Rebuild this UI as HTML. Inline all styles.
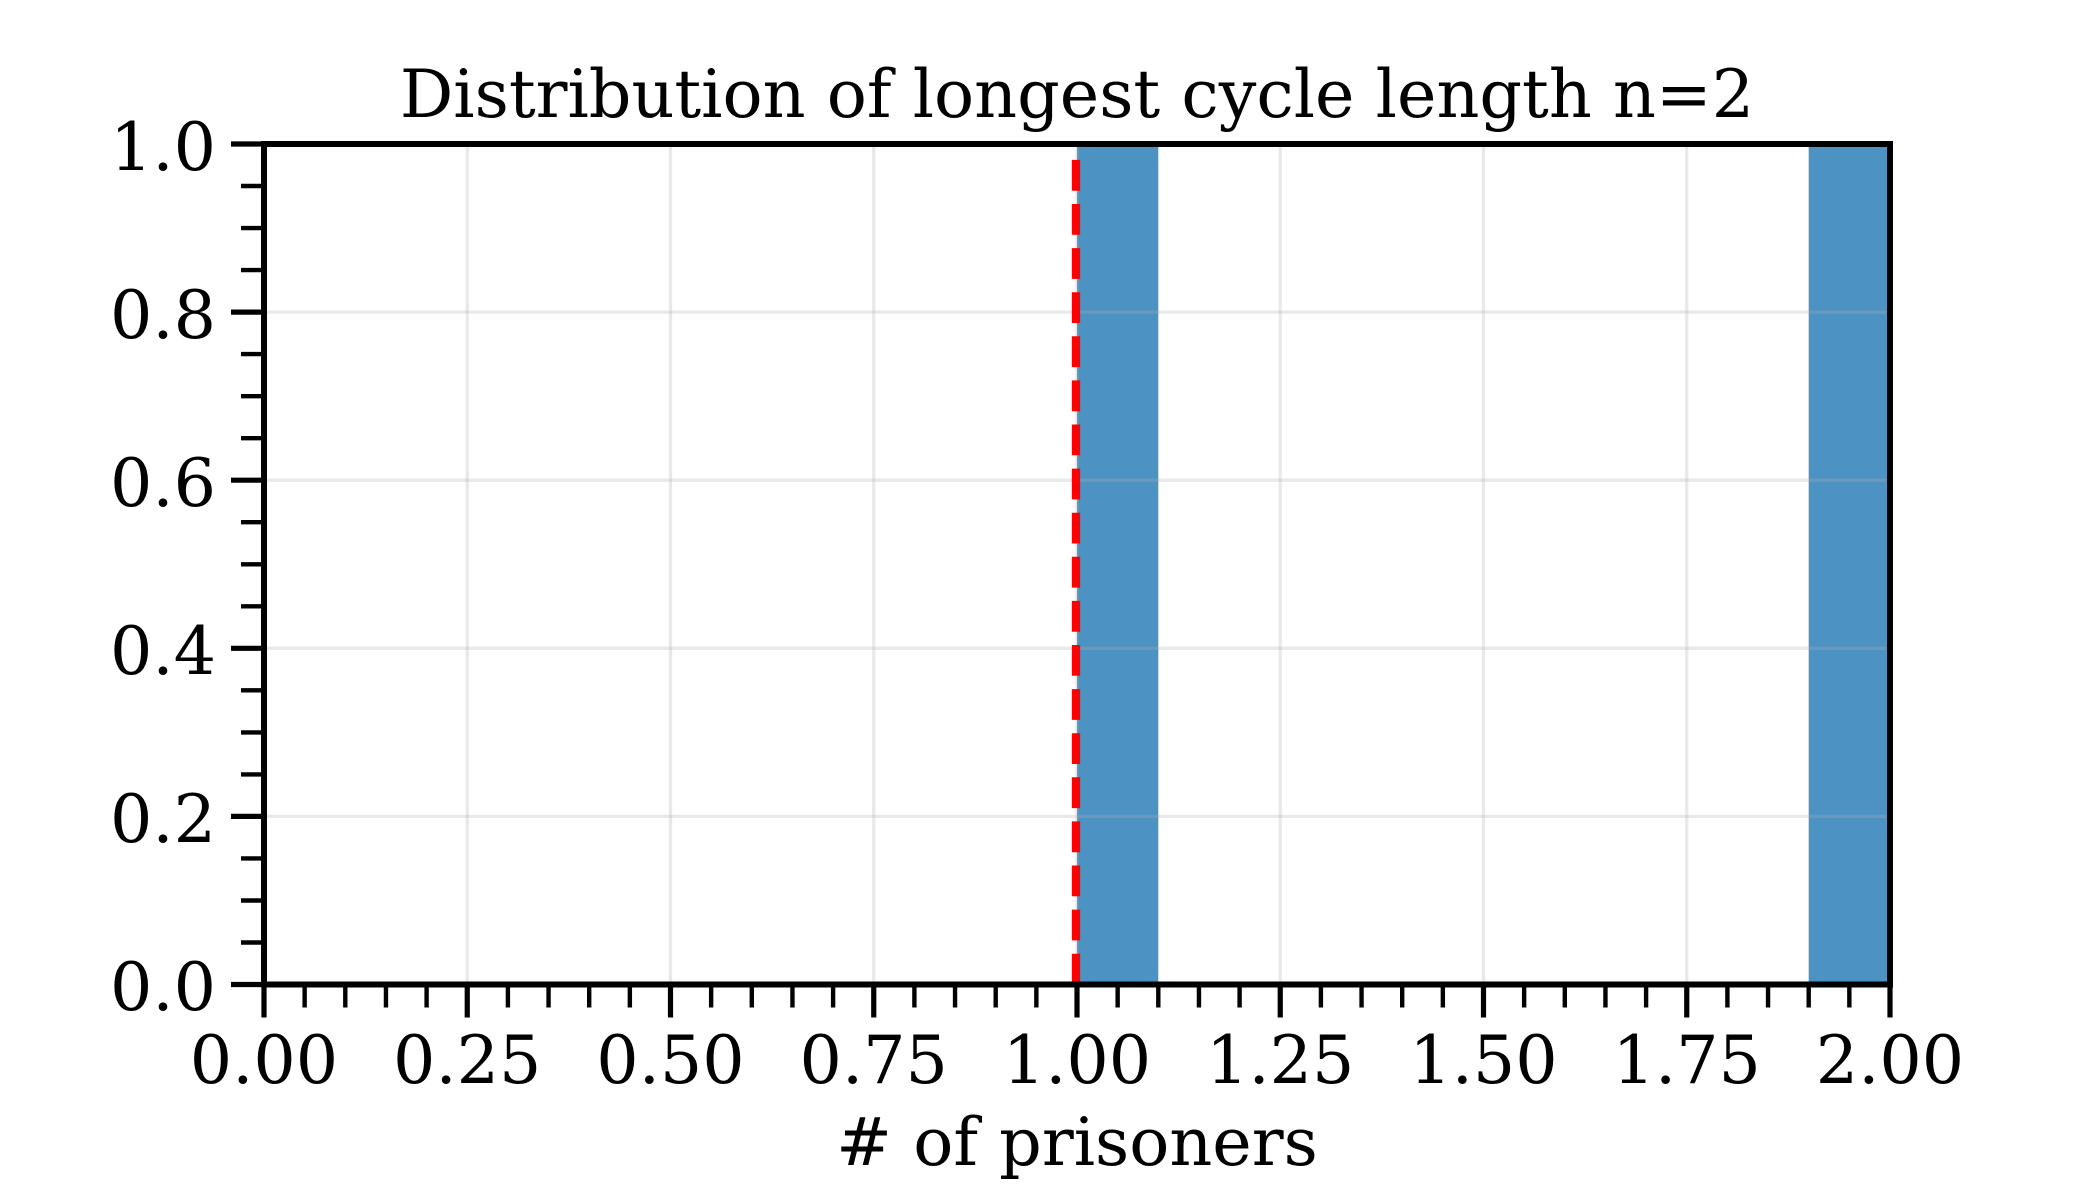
<!DOCTYPE html>
<html>
<head>
<meta charset="utf-8">
<style>
html,body{margin:0;padding:0;background:#fff;}
svg{display:block;}
text{font-family:"DejaVu Serif","Liberation Serif",serif;fill:#000;font-size:66.67px;}
</style>
</head>
<body>
<svg width="2100" height="1200" viewBox="0 0 2100 1200" xmlns="http://www.w3.org/2000/svg">
<rect x="0" y="0" width="2100" height="1200" fill="#fff"/>
<!-- bars -->
<rect x="1077" y="144" width="81.3" height="840.5" fill="#4c92c3"/>
<rect x="1808.7" y="144" width="81.3" height="840.5" fill="#4c92c3"/>
<!-- grid -->
<g stroke="#b0b0b0" stroke-opacity="0.28" stroke-width="3.3">
<line x1="467.25" y1="144" x2="467.25" y2="984.5"/>
<line x1="670.5" y1="144" x2="670.5" y2="984.5"/>
<line x1="873.75" y1="144" x2="873.75" y2="984.5"/>
<line x1="1077" y1="144" x2="1077" y2="984.5"/>
<line x1="1280.25" y1="144" x2="1280.25" y2="984.5"/>
<line x1="1483.5" y1="144" x2="1483.5" y2="984.5"/>
<line x1="1686.75" y1="144" x2="1686.75" y2="984.5"/>
<line x1="264" y1="816.4" x2="1890" y2="816.4"/>
<line x1="264" y1="648.3" x2="1890" y2="648.3"/>
<line x1="264" y1="480.2" x2="1890" y2="480.2"/>
<line x1="264" y1="312.1" x2="1890" y2="312.1"/>
</g>
<!-- red dashed line -->
<line x1="1076" y1="984.5" x2="1076" y2="144" stroke="#ff0000" stroke-width="8.33" stroke-dasharray="30.8 13.3"/>
<!-- ticks -->
<g stroke="#000" stroke-width="5.2">
<line x1="264" y1="984.5" x2="264" y2="1017.5"/>
<line x1="467.25" y1="984.5" x2="467.25" y2="1017.5"/>
<line x1="670.5" y1="984.5" x2="670.5" y2="1017.5"/>
<line x1="873.75" y1="984.5" x2="873.75" y2="1017.5"/>
<line x1="1077" y1="984.5" x2="1077" y2="1017.5"/>
<line x1="1280.25" y1="984.5" x2="1280.25" y2="1017.5"/>
<line x1="1483.5" y1="984.5" x2="1483.5" y2="1017.5"/>
<line x1="1686.75" y1="984.5" x2="1686.75" y2="1017.5"/>
<line x1="1890" y1="984.5" x2="1890" y2="1017.5"/>
<line x1="264" y1="984.5" x2="231" y2="984.5"/>
<line x1="264" y1="816.4" x2="231" y2="816.4"/>
<line x1="264" y1="648.3" x2="231" y2="648.3"/>
<line x1="264" y1="480.2" x2="231" y2="480.2"/>
<line x1="264" y1="312.1" x2="231" y2="312.1"/>
<line x1="264" y1="144" x2="231" y2="144"/>
</g>
<g stroke="#000" stroke-width="4.4">
<line x1="304.65" y1="984.5" x2="304.65" y2="1007.5"/>
<line x1="345.3" y1="984.5" x2="345.3" y2="1007.5"/>
<line x1="385.95" y1="984.5" x2="385.95" y2="1007.5"/>
<line x1="426.6" y1="984.5" x2="426.6" y2="1007.5"/>
<line x1="507.9" y1="984.5" x2="507.9" y2="1007.5"/>
<line x1="548.55" y1="984.5" x2="548.55" y2="1007.5"/>
<line x1="589.2" y1="984.5" x2="589.2" y2="1007.5"/>
<line x1="629.85" y1="984.5" x2="629.85" y2="1007.5"/>
<line x1="711.15" y1="984.5" x2="711.15" y2="1007.5"/>
<line x1="751.8" y1="984.5" x2="751.8" y2="1007.5"/>
<line x1="792.45" y1="984.5" x2="792.45" y2="1007.5"/>
<line x1="833.1" y1="984.5" x2="833.1" y2="1007.5"/>
<line x1="914.4" y1="984.5" x2="914.4" y2="1007.5"/>
<line x1="955.05" y1="984.5" x2="955.05" y2="1007.5"/>
<line x1="995.7" y1="984.5" x2="995.7" y2="1007.5"/>
<line x1="1036.35" y1="984.5" x2="1036.35" y2="1007.5"/>
<line x1="1117.65" y1="984.5" x2="1117.65" y2="1007.5"/>
<line x1="1158.3" y1="984.5" x2="1158.3" y2="1007.5"/>
<line x1="1198.95" y1="984.5" x2="1198.95" y2="1007.5"/>
<line x1="1239.6" y1="984.5" x2="1239.6" y2="1007.5"/>
<line x1="1320.9" y1="984.5" x2="1320.9" y2="1007.5"/>
<line x1="1361.55" y1="984.5" x2="1361.55" y2="1007.5"/>
<line x1="1402.2" y1="984.5" x2="1402.2" y2="1007.5"/>
<line x1="1442.85" y1="984.5" x2="1442.85" y2="1007.5"/>
<line x1="1524.15" y1="984.5" x2="1524.15" y2="1007.5"/>
<line x1="1564.8" y1="984.5" x2="1564.8" y2="1007.5"/>
<line x1="1605.45" y1="984.5" x2="1605.45" y2="1007.5"/>
<line x1="1646.1" y1="984.5" x2="1646.1" y2="1007.5"/>
<line x1="1727.4" y1="984.5" x2="1727.4" y2="1007.5"/>
<line x1="1768.05" y1="984.5" x2="1768.05" y2="1007.5"/>
<line x1="1808.7" y1="984.5" x2="1808.7" y2="1007.5"/>
<line x1="1849.35" y1="984.5" x2="1849.35" y2="1007.5"/>
<line x1="264" y1="942.5" x2="241" y2="942.5"/>
<line x1="264" y1="900.5" x2="241" y2="900.5"/>
<line x1="264" y1="858.4" x2="241" y2="858.4"/>
<line x1="264" y1="774.4" x2="241" y2="774.4"/>
<line x1="264" y1="732.4" x2="241" y2="732.4"/>
<line x1="264" y1="690.3" x2="241" y2="690.3"/>
<line x1="264" y1="606.3" x2="241" y2="606.3"/>
<line x1="264" y1="564.3" x2="241" y2="564.3"/>
<line x1="264" y1="522.2" x2="241" y2="522.2"/>
<line x1="264" y1="438.2" x2="241" y2="438.2"/>
<line x1="264" y1="396.2" x2="241" y2="396.2"/>
<line x1="264" y1="354.1" x2="241" y2="354.1"/>
<line x1="264" y1="270.1" x2="241" y2="270.1"/>
<line x1="264" y1="228.1" x2="241" y2="228.1"/>
<line x1="264" y1="186" x2="241" y2="186"/>
</g>
<!-- spines -->
<rect x="264" y="144" width="1626" height="840.5" fill="none" stroke="#000" stroke-width="6"/>
<!-- y tick labels -->
<g text-anchor="end">
<text x="216" y="1010">0.0</text>
<text x="216" y="842">0.2</text>
<text x="216" y="674">0.4</text>
<text x="216" y="506">0.6</text>
<text x="216" y="338">0.8</text>
<text x="216" y="170">1.0</text>
</g>
<!-- x tick labels -->
<g text-anchor="middle">
<text x="264" y="1083">0.00</text>
<text x="467.25" y="1083">0.25</text>
<text x="670.5" y="1083">0.50</text>
<text x="873.75" y="1083">0.75</text>
<text x="1077" y="1083">1.00</text>
<text x="1280.25" y="1083">1.25</text>
<text x="1483.5" y="1083">1.50</text>
<text x="1686.75" y="1083">1.75</text>
<text x="1890" y="1083">2.00</text>
</g>
<text x="1077" y="1165" text-anchor="middle"># of prisoners</text>
<text x="1077" y="117" text-anchor="middle">Distribution of longest cycle length n=2</text>
</svg>
</body>
</html>
